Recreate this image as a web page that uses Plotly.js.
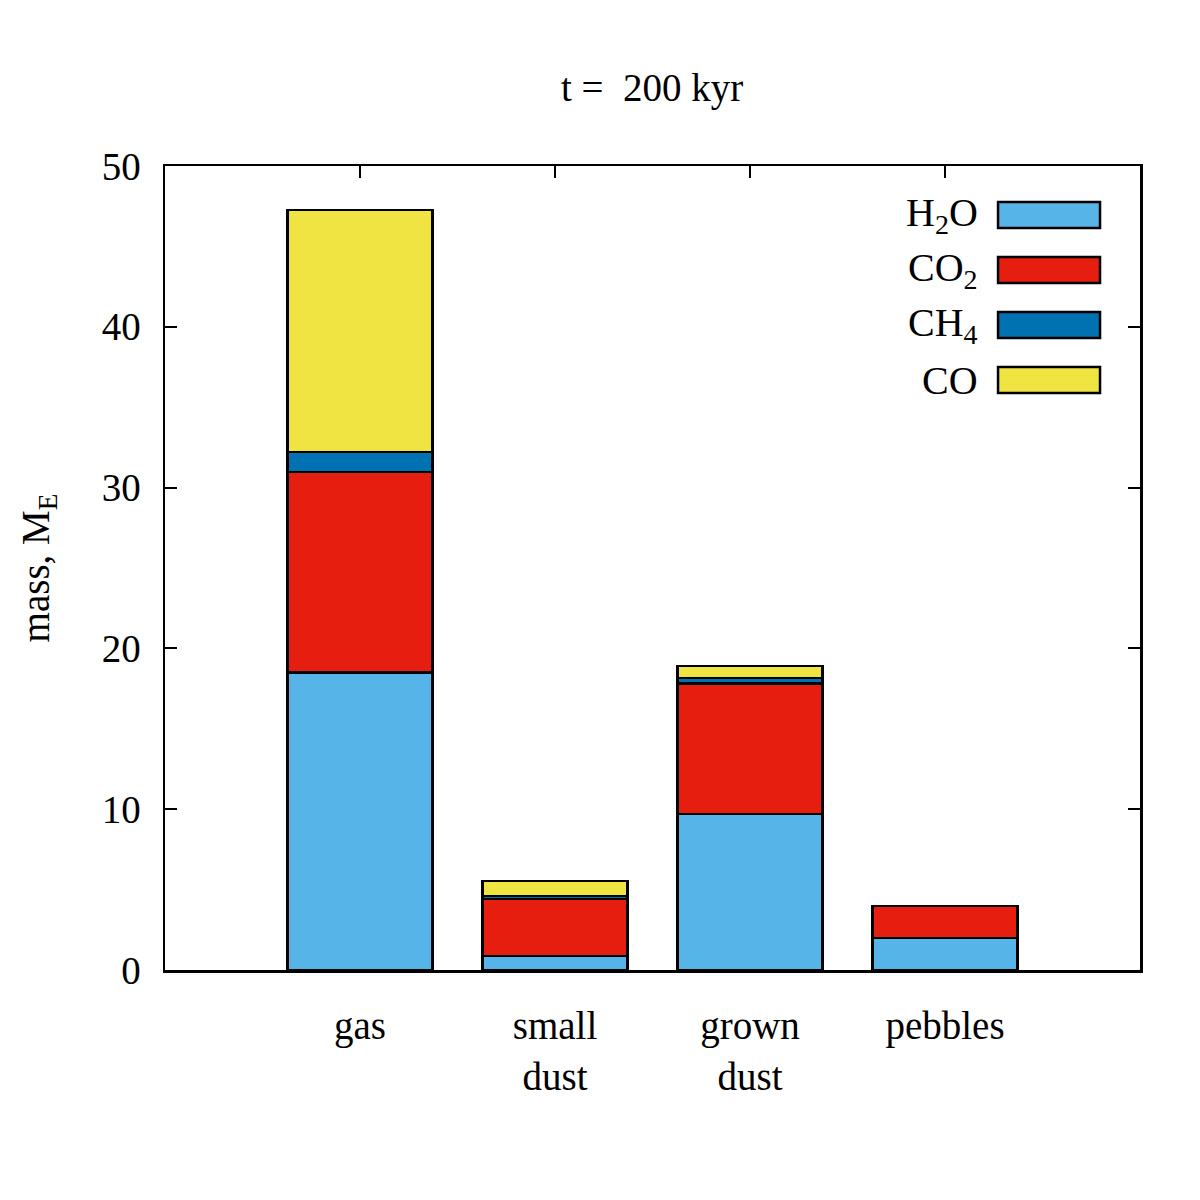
<!DOCTYPE html>
<html>
<head>
<meta charset="utf-8">
<script src="https://cdn.plot.ly/plotly-3.0.1.min.js"></script>
<style>html,body{margin:0;padding:0;background:#fff;}#chart{width:1200px;height:1200px;}</style>
</head>
<body>
<div id="chart"></div>
<script>
var categories = ["gas", "small<br>dust", "grown<br>dust", "pebbles"];
var species = ["H<sub>2</sub>O", "CO<sub>2</sub>", "CH<sub>4</sub>", "CO"];
var colors = ["#56b4e9", "#e51e10", "#0072b2", "#f0e442"];
var h2o = [18.5, 0.87, 9.70, 1.99];
var co2 = [12.47, 3.55, 8.13, 1.99];
var ch4 = [1.24, 0.18, 0.33, 0.0];
var co  = [15.05, 0.93, 0.76, 0.0];
var series = [h2o, co2, ch4, co];
var yTicks = [0, 10, 20, 30, 40, 50];

var FONT = "Liberation Serif, Times New Roman, serif";
var xIdx = categories.map(function(_, i){ return i; });

var traces = series.map(function(vals, k){
  return {
    type: "bar",
    x: xIdx,
    y: vals,
    name: species[k],
    width: 0.745,
    marker: {color: colors[k], line: {color: "#000", width: 2.5}},
    showlegend: false,
    hoverinfo: "y"
  };
});

var shapes = [];
var annotations = [];
var legY = [0.939, 0.8706, 0.8022, 0.7338];
var hh = 0.0162;
species.forEach(function(s, k){
  shapes.push({type: "rect", xref: "paper", yref: "paper",
    x0: 0.8544, x1: 0.959, y0: legY[k] - hh, y1: legY[k] + hh,
    fillcolor: colors[k], line: {color: "#000", width: 2.5}});
  annotations.push({xref: "paper", yref: "paper", x: 0.836, y: legY[k],
    xanchor: "right", yanchor: "middle", text: s, showarrow: false,
    font: {family: FONT, size: 40, color: "#000"}});
});

var layout = {
  width: 1200, height: 1200,
  margin: {l: 165, r: 60, t: 166, b: 230},
  paper_bgcolor: "#fff", plot_bgcolor: "#fff",
  barmode: "stack",
  title: {text: "t =  200 kyr", x: 0.5435, xanchor: "center", y: 0.927, yanchor: "middle",
          font: {family: FONT, size: 39, color: "#000"}},
  font: {family: FONT, color: "#000"},
  xaxis: {
    range: [-1, 4],
    tickmode: "array", tickvals: xIdx, ticktext: categories,
    ticks: "inside", ticklen: 12, tickwidth: 2, tickcolor: "#000",
    mirror: "ticks", showline: true, linecolor: "#000", linewidth: 2.5,
    showgrid: false, zeroline: false, layer: "below traces",
    tickfont: {family: FONT, size: 39, color: "#000"},
    ticklabelstandoff: 20
  },
  yaxis: {
    range: [0, 50],
    tickmode: "array", tickvals: yTicks,
    ticks: "inside", ticklen: 12, tickwidth: 2, tickcolor: "#000",
    mirror: "ticks", showline: true, linecolor: "#000", linewidth: 2.5,
    showgrid: false, zeroline: false,
    tickfont: {family: FONT, size: 39, color: "#000"},
    ticklabelstandoff: 14,
    title: {text: "mass, M<sub>E</sub>", font: {family: FONT, size: 39, color: "#000"}, standoff: 40}
  },
  shapes: shapes,
  annotations: annotations
};

Plotly.newPlot("chart", traces, layout, {displayModeBar: false, staticPlot: true});
</script>
</body>
</html>
